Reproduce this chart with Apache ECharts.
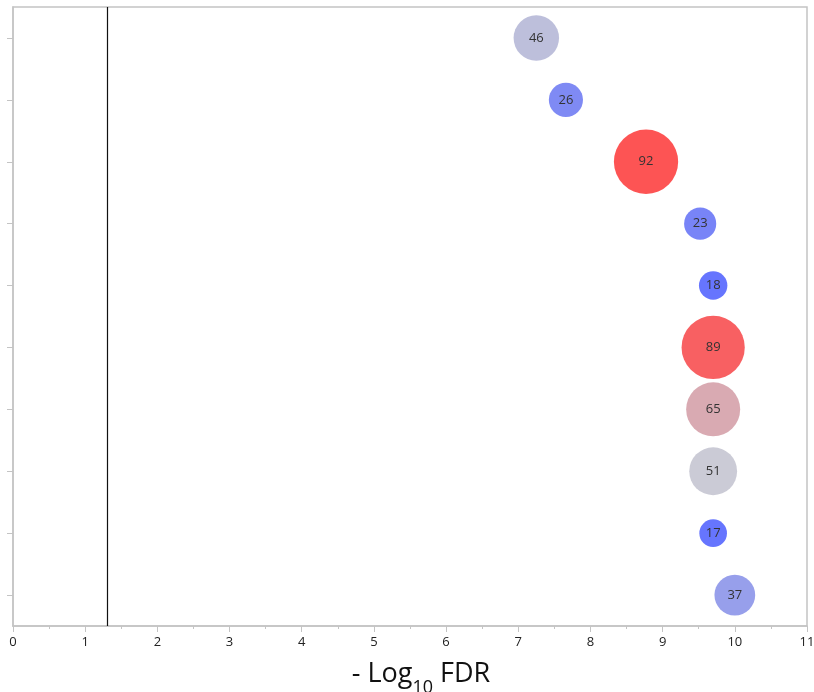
<!DOCTYPE html>
<html>
<head>
<meta charset="utf-8">
<script src="https://cdn.jsdelivr.net/npm/echarts@6/dist/echarts.min.js"></script>
<style>html,body{margin:0;padding:0;background:#fff;}#main{width:814px;height:692px;}</style>
</head>
<body>
<div id="main"></div>
<script>
// Categories (top to bottom), unlabeled in the reference
var terms = ['Term 1','Term 2','Term 3','Term 4','Term 5','Term 6','Term 7','Term 8','Term 9','Term 10'];
// -log10 FDR for each term
var negLogFDR = [7.25, 7.66, 8.77, 9.52, 9.70, 9.70, 9.70, 9.70, 9.70, 10.00];
// Gene counts (bubble labels, bubble size)
var counts = [46, 26, 92, 23, 18, 89, 65, 51, 17, 37];
// Colour score (blue = negative, grey = 0, red = positive)
var colorScore = [-0.4, -2.2, 2.9, -2.4, -2.9, 2.6, 0.8, 0.0, -2.9, -1.5];
// Threshold line at FDR = 0.05
var threshold = 1.301;
var xTicks = [0, 11, 1];

var data = terms.map(function (t, i) { return [negLogFDR[i], t, counts[i], colorScore[i]]; });

var chart = echarts.init(document.getElementById('main'));
chart.setOption({
  backgroundColor: '#fff',
  animation: false,
  textStyle: { fontFamily: 'Open Sans' },
  grid: { left: 13, right: 7, top: 7, bottom: 66, containLabel: false, outerBoundsMode: 'none',
          show: true, borderColor: '#c4c4c4', borderWidth: 1.5 },
  xAxis: {
    type: 'value', min: xTicks[0], max: xTicks[1], interval: xTicks[2],
    axisLine: { show: true, lineStyle: { color: '#c4c4c4', width: 1.5 } },
    axisTick: { show: true, length: 6, lineStyle: { color: '#c4c4c4' } },
    minorTick: { show: true, splitNumber: 2, length: 3, lineStyle: { color: '#c4c4c4' } },
    splitLine: { show: false },
    axisLabel: { color: '#222', fontSize: 13, margin: 10, fontFamily: 'Open Sans' },
    name: '{main|- Log}{sub|10}{main| FDR}',
    nameLocation: 'middle', nameGap: 35,
    nameTextStyle: {
      color: '#111', fontSize: 27, fontFamily: 'Open Sans', padding: [0, 0, 0, 22],
      rich: {
        main: { fontSize: 27, color: '#111', fontFamily: 'Open Sans', lineHeight: 34, verticalAlign: 'top' },
        sub: { fontSize: 18, color: '#111', fontFamily: 'Open Sans', lineHeight: 34, padding: [18, 0, 0, 0], verticalAlign: 'top' }
      }
    }
  },
  yAxis: {
    type: 'category', data: terms, inverse: true,
    axisLine: { show: true, lineStyle: { color: '#c4c4c4', width: 1.5 } },
    axisTick: { show: true, alignWithLabel: true, length: 6, lineStyle: { color: '#c4c4c4' } },
    axisLabel: { show: false },
    splitLine: { show: false }
  },
  visualMap: {
    show: false, type: 'continuous', dimension: 3, min: -3, max: 3,
    inRange: { color: ['#6372ff', '#cbcbd6', '#ff5050'] }
  },
  series: [{
    type: 'scatter',
    data: data,
    symbolSize: function (v) { return 6.7 * Math.sqrt(v[2]); },
    itemStyle: { opacity: 1 },
    label: {
      show: true, position: 'inside', color: '#333', fontSize: 13, fontFamily: 'Open Sans',
      formatter: function (p) { return p.value[2]; }
    },
    markLine: {
      silent: true, symbol: 'none', label: { show: false },
      lineStyle: { color: '#111', width: 1.2, type: 'solid' },
      data: [{ xAxis: threshold }]
    }
  }]
});
</script>
</body>
</html>
